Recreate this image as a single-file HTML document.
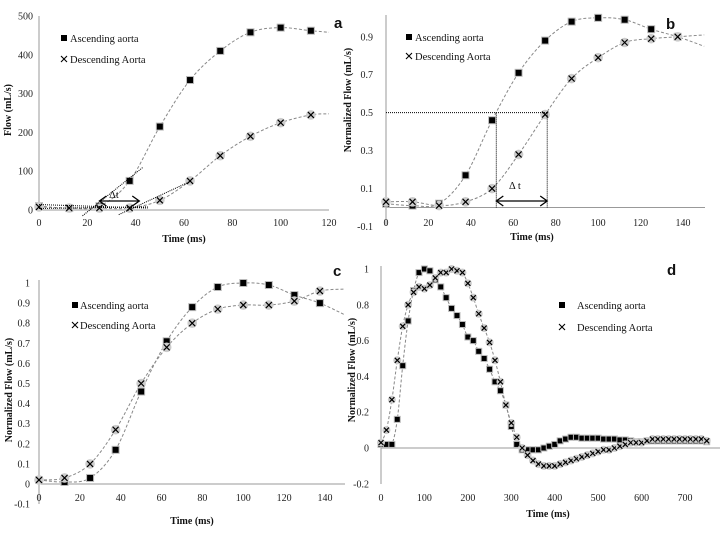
<!DOCTYPE html>
<html><head><meta charset="utf-8"><style>
html,body{margin:0;padding:0;background:#fff}
svg{display:block;font-family:"Liberation Serif",serif}
.tk{font-size:10px;fill:#222}
.ti{font-size:10px;font-weight:bold;fill:#111}
.lg{font-size:10.5px;fill:#111}
.pl{font-family:"Liberation Sans",sans-serif;font-size:15px;font-weight:bold;fill:#111}
</style></head><body>
<svg id="chart" width="720" height="540" viewBox="0 0 720 540" xmlns="http://www.w3.org/2000/svg"></svg>
<script>
const tA = [0,12.5,25,37.5,50,62.5,75,87.5,100,112.5];
const ascA = [10,5,10,75,215,335,410,458,470,462];
const descA = [8,5,5,5,25,75,140,190,225,245];
const tB = [0,12.5,25,37.5,50,62.5,75,87.5,100,112.5,125,137.5];
const ascB = [0.02,0.01,0.02,0.17,0.46,0.71,0.88,0.98,1.0,0.99,0.94,0.90];
const descB = [0.03,0.03,0.01,0.03,0.10,0.28,0.49,0.68,0.79,0.87,0.89,0.90];
const ascC = [0.02,0.01,0.03,0.17,0.46,0.71,0.88,0.98,1.0,0.99,0.94,0.90];
const descC = [0.02,0.03,0.10,0.27,0.50,0.68,0.80,0.87,0.89,0.89,0.91,0.96];
const tD = [0,12.5,25,37.5,50,62.5,75,87.5,100,112.5,125,137.5,150,162.5,175,187.5,200,212.5,225,237.5,250,262.5,275,287.5,300,312.5,325,337.5,350,362.5,375,387.5,400,412.5,425,437.5,450,462.5,475,487.5,500,512.5,525,537.5,550,562.5,575,587.5,600,612.5,625,637.5,650,662.5,675,687.5,700,712.5,725,737.5,750];
const ascD = [0.02,0.02,0.02,0.16,0.46,0.71,0.88,0.98,1.0,0.99,0.94,0.90,0.84,0.78,0.74,0.69,0.62,0.60,0.54,0.50,0.44,0.37,0.32,0.24,0.12,0.02,-0.01,-0.01,-0.01,-0.01,0.0,0.01,0.02,0.04,0.05,0.06,0.06,0.055,0.055,0.055,0.055,0.05,0.05,0.05,0.045,0.045,0.04,0.035,0.035,0.04,0.04,0.04,0.04,0.04,0.04,0.04,0.04,0.04,0.04,0.04,0.035];
const descD = [0.03,0.10,0.27,0.49,0.68,0.80,0.87,0.90,0.89,0.91,0.95,0.98,0.98,1.0,0.99,0.98,0.92,0.84,0.75,0.67,0.59,0.49,0.37,0.24,0.14,0.06,0.0,-0.04,-0.07,-0.09,-0.10,-0.10,-0.10,-0.09,-0.08,-0.07,-0.06,-0.05,-0.04,-0.03,-0.02,-0.01,-0.01,0.0,0.01,0.02,0.03,0.03,0.03,0.04,0.05,0.05,0.05,0.05,0.05,0.05,0.05,0.05,0.05,0.05,0.04];
const ticksA_y = [0,100,200,300,400,500];
const ticksA_x = [0,20,40,60,80,100,120];
const ticksB_y = [-0.1,0.1,0.3,0.5,0.7,0.9];
const ticksB_x = [0,20,40,60,80,100,120,140];
const ticksC_y = [-0.1,0,0.1,0.2,0.3,0.4,0.5,0.6,0.7,0.8,0.9,1];
const ticksD_y = [-0.2,0,0.2,0.4,0.6,0.8,1];
const ticksD_x = [0,100,200,300,400,500,600,700];

const svg = document.getElementById('chart');
const NS = 'http://www.w3.org/2000/svg';
function el(tag, attrs, parent){const e=document.createElementNS(NS,tag);for(const k in attrs)e.setAttribute(k,attrs[k]);(parent||svg).appendChild(e);return e;}
function txt(s, attrs, parent){const e=el('text',attrs,parent);e.textContent=s;return e;}
function lin(d0,d1,r0,r1){return v=>r0+(v-d0)/(d1-d0)*(r1-r0);}
function smooth(pts){
  let d='M'+pts[0][0].toFixed(1)+','+pts[0][1].toFixed(1);
  for(let i=0;i<pts.length-1;i++){
    const p0=pts[i-1]||pts[i],p1=pts[i],p2=pts[i+1],p3=pts[i+2]||p2;
    const c1=[p1[0]+(p2[0]-p0[0])/6,p1[1]+(p2[1]-p0[1])/6];
    const c2=[p2[0]-(p3[0]-p1[0])/6,p2[1]-(p3[1]-p1[1])/6];
    d+=' C'+c1[0].toFixed(1)+','+c1[1].toFixed(1)+' '+c2[0].toFixed(1)+','+c2[1].toFixed(1)+' '+p2[0].toFixed(1)+','+p2[1].toFixed(1);
  }
  return d;
}
function square(g,x,y,s){
  const sh=el('rect',{x:x-s/2-1,y:y-s/2-1,width:s+2,height:s+2,fill:'#bbb'},g);
  
  
  const r=el('rect',{x:x-s/2,y:y-s/2,width:s,height:s,fill:'#000'},g);
  
  
}
function cross(g,x,y,s){
  const c=el('circle',{cx:x,cy:y,r:s*0.8,fill:'#ccc'},g);
  
  
  const p=el('path',{d:`M${x-s/2},${y-s/2}L${x+s/2},${y+s/2}M${x+s/2},${y-s/2}L${x-s/2},${y+s/2}`,stroke:'#000','stroke-width':1.2},g);
  
  
}
function panel(o){
  const g=el('g',{});
  
  
  const X=lin(o.xd[0],o.xd[1],o.xr[0],o.xr[1]), Y=lin(o.yd[0],o.yd[1],o.yr[0],o.yr[1]);
  const ax=el('line',{x1:X(0),x2:o.xEnd,y1:Y(0),y2:Y(0),stroke:'#999','stroke-width':1},g);
  
  
  const ay=el('line',{x1:X(0),x2:X(0),y1:o.yTop,y2:o.yBot,stroke:'#999','stroke-width':1},g);
  
  
  o.yt.forEach(v=>{
    const t=txt(String(v),{x:o.ylx,y:Y(v)+3.5,'text-anchor':'end',class:'tk'},g);
    
    
  });
  o.xt.forEach(v=>{
    const t=txt(String(v),{x:X(v),y:o.xly,'text-anchor':'middle',class:'tk'},g);
    
    
  });
  const xt=txt('Time (ms)',{x:o.xtx,y:o.xty,'text-anchor':'middle',class:'ti'},g);
  
  
  const yt=txt(o.ytitle,{x:0,y:0,'text-anchor':'middle',class:'ti',transform:`translate(${o.ytx},${o.yty}) rotate(-90)`},g);
  
  
  const pl=txt(o.id,{x:o.lx,y:o.ly,class:'pl'},g);
  
  
  [[o.asc,'ascending'],[o.desc,'descending']].forEach(([arr,nm],k)=>{
    const pts=o.t.map((t,i)=>[X(t),Y(arr[i])]);
    if(o.ext){const e=o.ext[k];pts.push([X(e[0]),Y(e[1])]);}
    const c=el('path',{d:smooth(pts),fill:'none',stroke:'#888','stroke-width':1,'stroke-dasharray':'3,2'},g);
    
    
  });
  const ms=o.ms||6;
  o.t.forEach((t,i)=>square(g,X(t),Y(o.asc[i]),ms));
  o.t.forEach((t,i)=>cross(g,X(t),Y(o.desc[i]),ms));
  const lg=el('g',{},g);
  
  
  const s=el('rect',{x:o.lgx-3,y:o.lgy-3,width:6,height:6,fill:'#000'},lg);
  
  
  const t1=txt('Ascending aorta',{x:o.lgtx,y:o.lgy+4,class:'lg'},lg);
  
  
  const y2=o.lgy+o.lgd;
  const cx=el('path',{d:`M${o.lgx-3},${y2-3}L${o.lgx+3},${y2+3}M${o.lgx+3},${y2-3}L${o.lgx-3},${y2+3}`,stroke:'#000','stroke-width':1.1},lg);
  
  
  const t2=txt('Descending Aorta',{x:o.lgtx,y:y2+4,class:'lg'},lg);
  
  
  return {g,X,Y};
}
function arrowLine(g,x1,x2,y){
  const l=el('line',{x1:x1+1,x2:x2-1,y1:y,y2:y,stroke:'#000','stroke-width':1.3},g);
  
  
  const h=el('path',{d:`M${x1+7},${y-5}L${x1},${y}L${x1+7},${y+5}M${x2-7},${y-5}L${x2},${y}L${x2-7},${y+5}`,fill:'none',stroke:'#000','stroke-width':1.3},g);
  
  
}
function dotted(g,x1,y1,x2,y2,name){
  const l=el('line',{x1,y1,x2,y2,stroke:'#000','stroke-width':1,'stroke-dasharray':'1,1'},g);
  
  
}

// Panel a
const A=panel({id:'a',t:tA,asc:ascA,desc:descA,xd:[0,120],xr:[39,329],yd:[0,500],yr:[210,16],xEnd:329,yTop:16,yBot:210,
  yt:ticksA_y,xt:ticksA_x,ylx:33,xly:226,xtx:184,xty:242,ytitle:'Flow (mL/s)',ytx:11,yty:110,lx:334,ly:28,
  lgx:64,lgy:38,lgd:21,lgtx:70,ext:[[120,458],[120,248]]});
dotted(A.g,A.X(0),A.Y(14),A.X(45),A.Y(5),'baseline-tangent');
dotted(A.g,A.X(0),A.Y(4),A.X(45),A.Y(8),'baseline-tangent-2');
dotted(A.g,A.X(18),A.Y(-15),A.X(43),A.Y(110),'ascending-upslope-tangent');
dotted(A.g,A.X(33),A.Y(-12),A.X(63),A.Y(75),'descending-upslope-tangent');
arrowLine(A.g,A.X(25),A.X(41.5),201);
const dA=txt('Δt',{x:A.X(29),y:198,class:'lg','font-size':'14px'},A.g);



// Panel b
const B=panel({id:'b',t:tB,asc:ascB,desc:descB,xd:[0,140],xr:[386,683],yd:[0,0.9],yr:[207.5,36.8],xEnd:705,yTop:15,yBot:226,
  yt:ticksB_y,xt:ticksB_x,ylx:373,xly:226,xtx:532,xty:240,ytitle:'Normalized Flow (mL/s)',ytx:351,yty:100,lx:666,ly:29,
  lgx:409,lgy:37,lgd:19,lgtx:415,ext:[[150,0.85],[150,0.91]]});
dotted(B.g,B.X(0),B.Y(0.5),B.X(76),B.Y(0.5),'half-max-line');
dotted(B.g,B.X(52),B.Y(0.5),B.X(52),B.Y(0),'ascending-half-max-drop');
dotted(B.g,B.X(76),B.Y(0.5),B.X(76),B.Y(0),'descending-half-max-drop');
arrowLine(B.g,B.X(52),B.X(76),201);
const dB=txt('Δ t',{x:B.X(58),y:189,class:'lg','font-size':'13px'},B.g);



// Panel c
panel({id:'c',t:tB,asc:ascC,desc:descC,xd:[0,140],xr:[39,325],yd:[0,1],yr:[484,283],xEnd:345,yTop:280,yBot:504,
  yt:ticksC_y,xt:ticksB_x,ylx:30,xly:501,xtx:192,xty:524,ytitle:'Normalized Flow (mL/s)',ytx:12,yty:390,lx:333,ly:276,
  lgx:75,lgy:305,lgd:20,lgtx:80,ext:[[150,0.84],[150,0.97]]});

// Panel d
panel({id:'d',t:tD,asc:ascD,desc:descD,xd:[0,700],xr:[381,685],yd:[0,1],yr:[448,269],xEnd:720,yTop:266,yBot:484,
  yt:ticksD_y,xt:ticksD_x,ylx:369,xly:501,xtx:548,xty:517,ytitle:'Normalized Flow (mL/s)',ytx:355,yty:370,lx:667,ly:275,
  lgx:562,lgy:305,lgd:22,lgtx:577,ms:5});
</script>
</body></html>
